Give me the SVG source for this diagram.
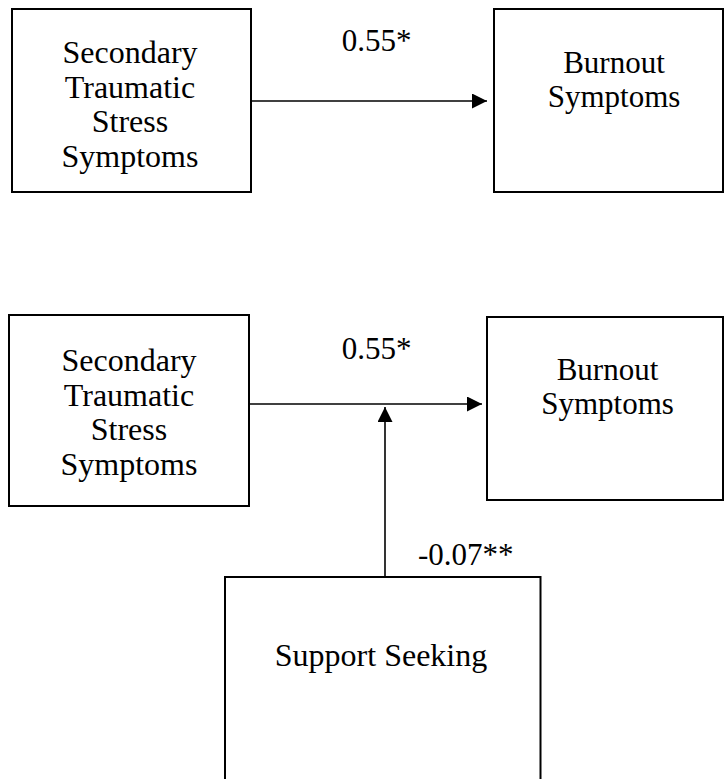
<svg xmlns="http://www.w3.org/2000/svg" width="725" height="779" viewBox="0 0 725 779">
<style>
.box{fill:#fff;stroke:#000;stroke-width:2}
.t{font-family:"Liberation Serif","Times New Roman",serif;font-size:32px;fill:#000;text-anchor:middle}
.t2{font-family:"Liberation Serif","Times New Roman",serif;font-size:31px;fill:#000;text-anchor:middle}
.lbl{font-family:"Liberation Serif","Times New Roman",serif;font-size:31px;fill:#000}
.c{stroke:#000;stroke-width:1.6;fill:none}
</style>
<defs>
<marker id="ah" viewBox="0 0 15 15" refX="15" refY="7.5" markerWidth="15" markerHeight="15" markerUnits="userSpaceOnUse" orient="auto">
<path d="M0,0 L15,7.5 L0,15 z" fill="#000"/>
</marker>
</defs>
<rect width="725" height="779" fill="#fff"/>
<g id="sts1">
<rect class="box" x="12" y="9" width="239" height="183"/>
<text class="t" x="130" y="63">Secondary</text>
<text class="t" x="130" y="97.5">Traumatic</text>
<text class="t" x="130" y="132">Stress</text>
<text class="t" x="130" y="166.5">Symptoms</text>
</g>
<g id="burnout1">
<rect class="box" x="494" y="9" width="229" height="183"/>
<text class="t2" x="614" y="73">Burnout</text>
<text class="t2" x="614" y="107">Symptoms</text>
</g>
<g id="sts2">
<rect class="box" x="9" y="315" width="240" height="191"/>
<text class="t" x="129" y="371">Secondary</text>
<text class="t" x="129" y="405.5">Traumatic</text>
<text class="t" x="129" y="440">Stress</text>
<text class="t" x="129" y="474.5">Symptoms</text>
</g>
<g id="burnout2">
<rect class="box" x="487" y="317" width="236" height="183"/>
<text class="t2" x="607.5" y="380">Burnout</text>
<text class="t2" x="607.5" y="414">Symptoms</text>
</g>
<g id="support">
<rect class="box" x="225" y="577" width="315.5" height="210"/>
<text class="t" x="381" y="666">Support Seeking</text>
</g>
<g id="connectors">
<line class="c" x1="252" y1="101" x2="487" y2="101" marker-end="url(#ah)"/>
<line class="c" x1="249" y1="404" x2="482" y2="404" marker-end="url(#ah)"/>
<line class="c" x1="385" y1="577" x2="385" y2="407" stroke-width="2" marker-end="url(#ah)"/>
</g>
<g id="labels">
<text class="lbl" x="376.5" y="51" text-anchor="middle">0.55*</text>
<text class="lbl" x="376.5" y="359" text-anchor="middle">0.55*</text>
<text class="lbl" x="418" y="565">-0.07**</text>
</g>
</svg>
